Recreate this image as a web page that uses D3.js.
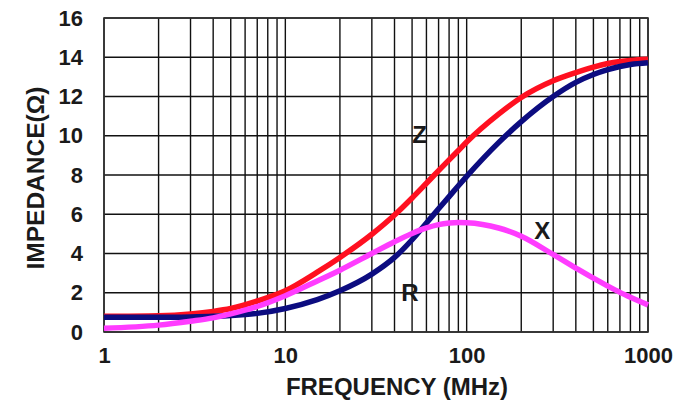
<!DOCTYPE html>
<html>
<head>
<meta charset="utf-8">
<script src="https://cdn.jsdelivr.net/npm/d3@7"></script>
<style>
  body { margin: 0; background: #fff; }
  text { font-family: "Liberation Sans", Arial, sans-serif; font-weight: bold; fill: #1a1a1a; }
</style>
</head>
<body>
<svg class="chart"></svg>
<script>
// frequency points (MHz) and the three curves
var freq = [1, 2, 3, 4, 5, 7, 10, 15, 20, 30, 40, 50, 60, 70, 80, 90, 100, 150, 200, 300, 400, 500, 600, 700, 800, 1000];
var zVals = [0.8, 0.83, 0.92, 1.05, 1.2, 1.58, 2.1, 3.05, 3.8, 4.98, 5.96, 6.83, 7.58, 8.22, 8.77, 9.25, 9.68, 11.1, 11.95, 12.8, 13.22, 13.5, 13.68, 13.78, 13.84, 13.9];
var rVals = [0.75, 0.75, 0.77, 0.8, 0.84, 0.95, 1.2, 1.65, 2.1, 2.95, 3.8, 4.7, 5.55, 6.28, 6.9, 7.45, 7.93, 9.65, 10.72, 12.0, 12.72, 13.12, 13.37, 13.53, 13.63, 13.72];
var xVals = [0.19, 0.35, 0.55, 0.72, 0.92, 1.3, 1.85, 2.6, 3.15, 4.0, 4.6, 5.02, 5.3, 5.47, 5.55, 5.58, 5.57, 5.3, 4.88, 3.95, 3.26, 2.74, 2.34, 2.02, 1.77, 1.38];

var xTicks = [1, 10, 100, 1000];
var yTicks = [0, 2, 4, 6, 8, 10, 12, 14, 16];

var width = 700,
    height = 404,
    margin = { top: 18, right: 52, bottom: 72, left: 104 };

var x = d3.scaleLog()
    .domain([1, 1000])
    .range([margin.left, width - margin.right]);

var y = d3.scaleLinear()
    .domain([0, 16])
    .range([height - margin.bottom, margin.top]);

var chart = d3.select(".chart")
    .attr("width", width)
    .attr("height", height);

// minor + major vertical grid: 1..9 in every decade
var vGrid = [];
[1, 10, 100].forEach(function (dec) {
    for (var k = 1; k < 10; k++) vGrid.push(dec * k);
});
vGrid.push(1000);

chart.append("g")
    .selectAll("line")
    .data(vGrid)
    .enter().append("line")
    .attr("x1", function (d) { return x(d); })
    .attr("x2", function (d) { return x(d); })
    .attr("y1", y(0))
    .attr("y2", y(16))
    .attr("stroke", "#111")
    .attr("stroke-width", 1.4);

chart.append("g")
    .selectAll("line")
    .data(yTicks)
    .enter().append("line")
    .attr("x1", x(1))
    .attr("x2", x(1000))
    .attr("y1", function (d) { return y(d); })
    .attr("y2", function (d) { return y(d); })
    .attr("stroke", "#111")
    .attr("stroke-width", 1.4);

chart.append("rect")
    .attr("x", x(1))
    .attr("y", y(16))
    .attr("width", x(1000) - x(1))
    .attr("height", y(0) - y(16))
    .attr("fill", "none")
    .attr("stroke", "#333")
    .attr("stroke-width", 1.6);

var xAxis = d3.axisBottom(x)
    .tickValues(xTicks)
    .tickFormat(d3.format("d"))
    .tickSize(0)
    .tickPadding(15);

var yAxis = d3.axisLeft(y)
    .tickValues(yTicks)
    .tickSize(0)
    .tickPadding(21);

var gx = chart.append("g")
    .attr("transform", "translate(0," + y(0) + ")")
    .call(xAxis);

var gy = chart.append("g")
    .attr("transform", "translate(" + x(1) + ",0)")
    .call(yAxis);

[gx, gy].forEach(function (g) {
    g.select(".domain").remove();
    g.selectAll("text")
        .style("font-size", "22px")
        .style("font-family", "'Liberation Sans', Arial, sans-serif")
        .style("font-weight", "bold")
        .attr("fill", "#1a1a1a");
});

// curves
var line = d3.line()
    .x(function (d) { return x(d[0]); })
    .y(function (d) { return y(d[1]); })
    .curve(d3.curveMonotoneX);

var series = [
    { name: "Z", values: zVals, color: "#ff1020" },
    { name: "R", values: rVals, color: "#0c0c80" },
    { name: "X", values: xVals, color: "#ff3cff" }
];

chart.append("g")
    .selectAll("path")
    .data(series)
    .enter().append("path")
    .attr("d", function (s) { return line(freq.map(function (f, i) { return [f, s.values[i]]; })); })
    .attr("fill", "none")
    .attr("stroke", function (s) { return s.color; })
    .attr("stroke-width", 5.5)
    .attr("stroke-linecap", "butt");

// curve labels
var labels = [
    { text: "Z", f: 55, v: 10.05 },
    { text: "R", f: 48.7, v: 2.04 },
    { text: "X", f: 261, v: 5.2 }
];

chart.append("g")
    .selectAll("text")
    .data(labels)
    .enter().append("text")
    .attr("x", function (d) { return x(d.f); })
    .attr("y", function (d) { return y(d.v); })
    .attr("dy", "0.36em")
    .attr("text-anchor", "middle")
    .style("font-size", "24px")
    .text(function (d) { return d.text; });

// axis titles
chart.append("text")
    .attr("x", 397)
    .attr("y", 386)
    .attr("dy", "0.36em")
    .attr("text-anchor", "middle")
    .style("font-size", "24px")
    .text("FREQUENCY (MHz)");

chart.append("text")
    .attr("transform", "translate(35,178) rotate(-90)")
    .attr("dy", "0.36em")
    .attr("text-anchor", "middle")
    .attr("textLength", 183)
    .attr("lengthAdjust", "spacingAndGlyphs")
    .style("font-size", "24px")
    .text("IMPEDANCE(Ω)");
</script>
</body>
</html>
